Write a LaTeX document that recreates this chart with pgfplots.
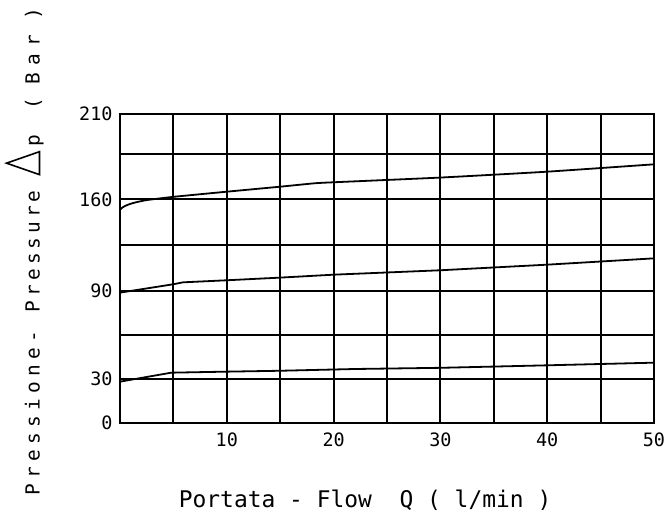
\documentclass[border=0pt]{standalone}
\usepackage{fontspec}
\setmainfont{DejaVu Sans Mono}
\usepackage{pgfplots}
\pgfplotsset{compat=1.18}
\newcommand\cA[1]{\makebox[17bp]{#1}}
\newcommand\cB[1]{\makebox[15.7bp]{#1}}
\newcommand\cC[1]{\makebox[19bp]{#1}}
\newcommand\cD[1]{\makebox[16bp]{#1}}
\begin{document}
\begin{tikzpicture}
\useasboundingbox (-120bp,-95bp) rectangle (547bp,423bp);
\begin{axis}[
  scale only axis,
  width=534bp, height=309bp,
  xmin=0, xmax=50, ymin=0, ymax=210,
  xtick={0,5,...,50},
  xticklabels={,,10,,20,,30,,40,,50},
  ytick={0,30,60,90,121,152,183,210},
  yticklabels={0,30,,90,,160,,210},
  grid=major,
  major tick length=0pt,
  major grid style={black, line width=2bp},
  axis line style={black, line width=2bp},
  /pgf/number format/assume math mode=true,
  ticklabel style={font=\fontsize{18.5}{18.5}\selectfont},
  yticklabel style={xshift=-4bp},
  xticklabel style={yshift=-6bp},
  xlabel={Portata - Flow\ \ Q ( l/min )},
  xlabel style={font=\fontsize{23}{23}\selectfont, at={(axis description cs:0.459,-0.249)}, anchor=center},
  ylabel={\cA P\cA r\cA e\cA s\cA s\cA i\cA o\cA n\cA e\cA -\hspace{13.6bp}\cB P\cB r\cB e\cB s\cB s\cB u\cB r\cB e\hspace{13bp}\tikz[baseline=0pt]\draw[line width=1.6bp,line join=miter] (0,0)--(23bp,0)--(11.5bp,33bp)--cycle;\hspace{2bp}\cD p\hspace{21bp}\cD (\hspace{8bp}\cC B\cC a\cC r\hspace{9.5bp}\cD )},
  ylabel style={font=\fontsize{19.5}{19.5}\selectfont, at={(axis description cs:-0.1507,0.555)}, anchor=base},
]
\addplot[black, line width=1.8bp, smooth, tension=0.3] coordinates {
(0,144.8)(0.2,146.3)(0.5,147.6)(1,149)(1.5,150)(2.5,151.5)(5,153.7)(10,157.2)(15,160.6)(18.2,162.9)(20,163.6)(30,166.8)(40,170.8)(50,175.8)};
\addplot[black, line width=1.8bp] coordinates {
(0,88.6)(5,94.3)(5.9,95.6)(10,97)(15,98.8)(20,100.8)(30,103.8)(40,107.6)(50,111.9)};
\addplot[black, line width=1.8bp] coordinates {
(0,28.1)(4.8,34.2)(10,34.9)(15,35.5)(22,36.7)(30,37.5)(40,39.2)(50,41)};
\end{axis}
\end{tikzpicture}
\end{document}
